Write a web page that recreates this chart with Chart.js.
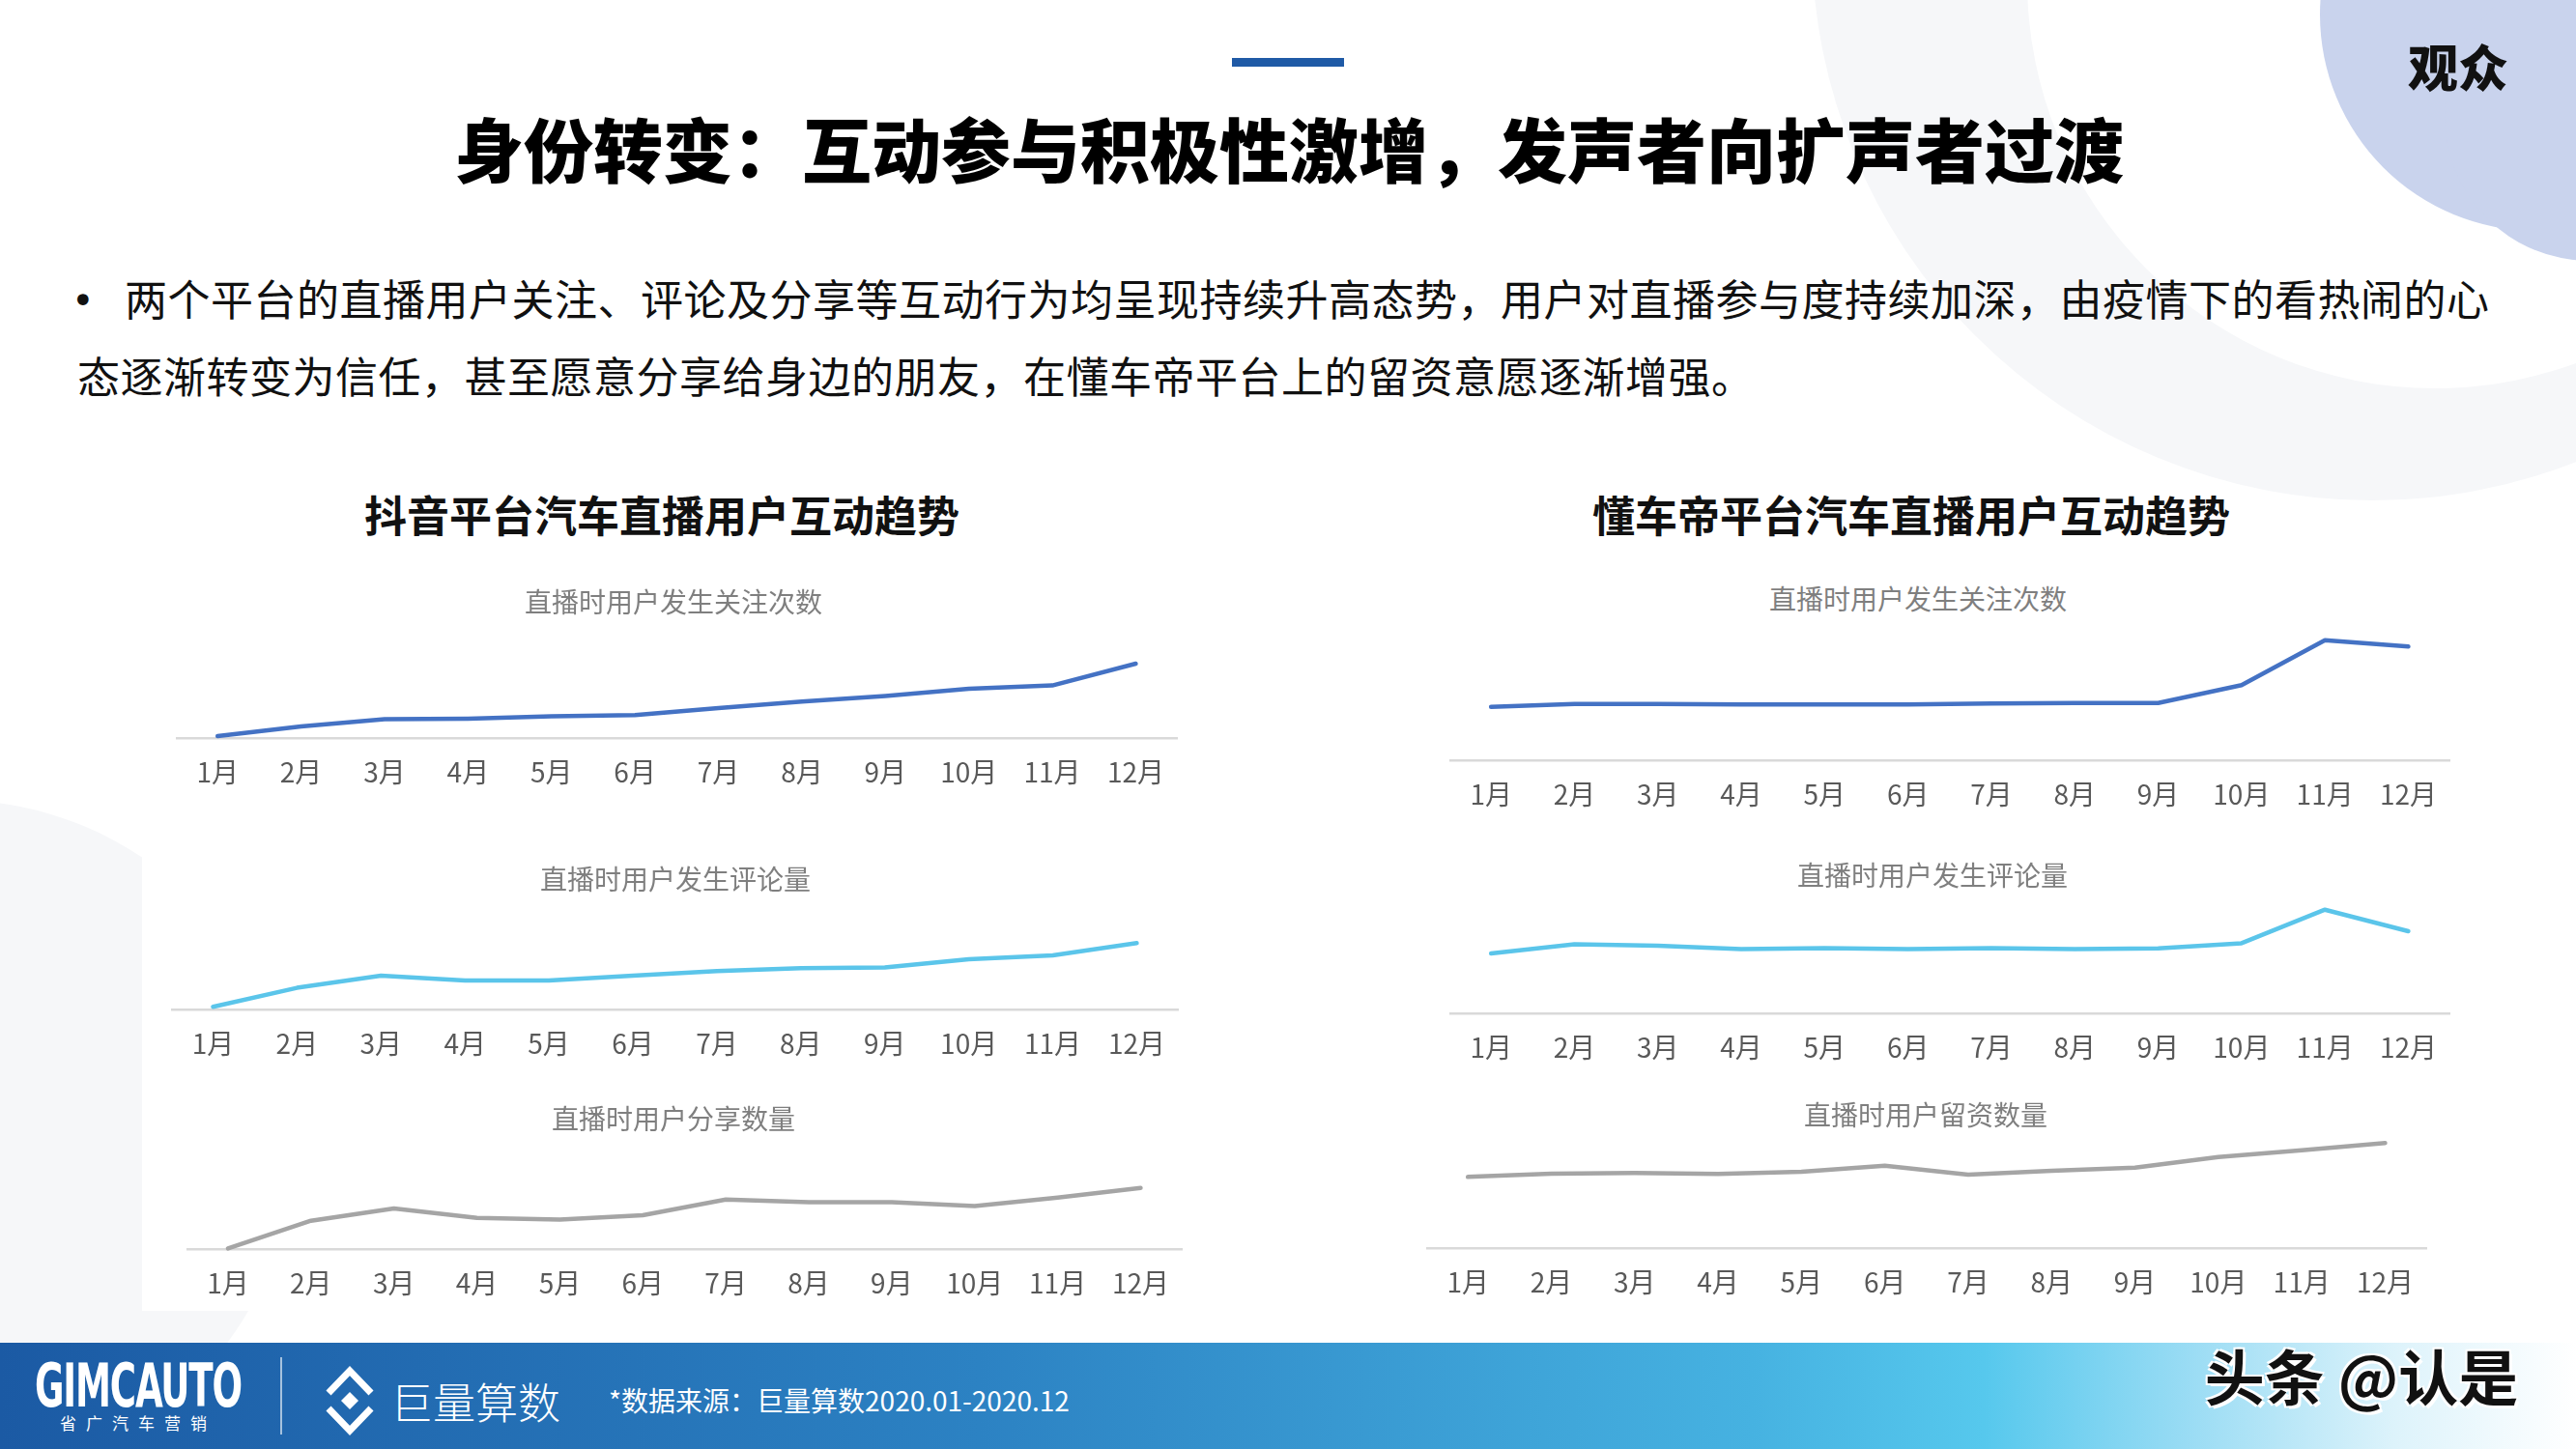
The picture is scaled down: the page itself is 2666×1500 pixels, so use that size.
<!DOCTYPE html>
<html lang="zh-CN">
<head>
<meta charset="utf-8">
<script src="https://cdn.jsdelivr.net/npm/chart.js@4.4.1/dist/chart.umd.min.js"></script>
<style>
  html, body { margin: 0; padding: 0; }
  body {
    width: 2666px; height: 1500px; position: relative; overflow: hidden; background: #fff;
    font-family: "Noto Sans CJK SC", "Noto Sans", sans-serif;
  }
  .abs { position: absolute; }
  .ctr { position: absolute; transform: translate(-50%, -50%); white-space: nowrap; line-height: 1; }
  .sub { font-size: 28px; color: #7f7f7f; z-index: 3; }
  .sect { font-size: 44px; font-weight: 700; color: #111; }
  .body { position: absolute; font-size: 44px; color: #111; letter-spacing: 0.5px; line-height: 1; white-space: nowrap; }
  canvas { position: absolute; z-index: 2; }
</style>
</head>
<body>

<!-- background shapes -->
<div class="abs" style="left:1875px;top:-642px;width:1160px;height:1160px;border-radius:50%;background:#f6f7f9;"></div>
<div class="abs" style="left:2098px;top:-442px;width:844px;height:844px;border-radius:50%;background:#fff;"></div>
<div class="abs" style="left:2401px;top:-209px;width:448px;height:448px;border-radius:50%;background:#c9d3ed;"></div>
<div class="abs" style="left:2530px;top:-30px;width:300px;height:300px;border-radius:50%;background:#c9d3ed;"></div>
<div class="abs" style="left:-402px;top:828px;width:706px;height:706px;border-radius:50%;background:#f6f7f9;"></div>
<div class="abs" style="left:147px;top:780px;width:1110px;height:577px;background:#fff;"></div>

<div class="ctr" style="left:2544px;top:68px;font-size:52px;font-weight:900;color:#111;">观众</div>

<!-- header -->
<div class="abs" style="left:1275px;top:60px;width:116px;height:9px;background:#1f5aa6;"></div>
<div class="ctr" style="left:1334px;top:152px;font-size:72px;font-weight:900;color:#000;">身份转变：互动参与积极性激增，发声者向扩声者过渡</div>

<div class="body" style="left:74px;top:291px;font-family:'DejaVu Sans',sans-serif;font-size:40px;">•</div>
<div class="body" style="left:129px;top:286px;">两个平台的直播用户关注、评论及分享等互动行为均呈现持续升高态势，用户对直播参与度持续加深，由疫情下的看热闹的心</div>
<div class="body" style="left:80px;top:366px;">态逐渐转变为信任，甚至愿意分享给身边的朋友，在懂车帝平台上的留资意愿逐渐增强。</div>

<div class="ctr sect" style="left:685px;top:532px;">抖音平台汽车直播用户互动趋势</div>
<div class="ctr sect" style="left:1978px;top:532px;">懂车帝平台汽车直播用户互动趋势</div>

<!-- chart subtitles -->
<div class="ctr sub" style="left:697px;top:622px;">直播时用户发生关注次数</div>
<div class="ctr sub" style="left:699px;top:909px;">直播时用户发生评论量</div>
<div class="ctr sub" style="left:697px;top:1157px;">直播时用户分享数量</div>
<div class="ctr sub" style="left:1985px;top:619px;">直播时用户发生关注次数</div>
<div class="ctr sub" style="left:2000px;top:905px;">直播时用户发生评论量</div>
<div class="ctr sub" style="left:1993px;top:1153px;">直播时用户留资数量</div>

<canvas id="dyFollow" width="1042" height="200" style="left:182px;top:624px;"></canvas>
<canvas id="dyComment" width="1048" height="200" style="left:177px;top:905px;"></canvas>
<canvas id="dyShare" width="1036" height="200" style="left:193px;top:1153px;"></canvas>
<canvas id="dcdFollow" width="1041" height="200" style="left:1500px;top:647px;"></canvas>
<canvas id="dcdComment" width="1041" height="200" style="left:1500px;top:909px;"></canvas>
<canvas id="dcdLeads" width="1041" height="200" style="left:1476px;top:1152px;"></canvas>

<!-- footer -->
<div class="abs" style="left:0;top:1390px;width:2666px;height:110px;background:linear-gradient(90deg,#1b5aa4 0%,#2c82c3 38%,#46b2e1 68%,#56c8ed 77%,#9adcf4 85%,#ddf3fb 93%,#ffffff 100%);"></div>
<div class="abs" style="left:36px;top:1404px;font-family:'DejaVu Sans',sans-serif;font-weight:700;font-size:62px;line-height:1;color:#fff;transform:scaleX(0.6);transform-origin:left top;letter-spacing:-2px;">GIMCAUTO</div>
<div class="abs" style="left:62px;top:1464px;font-size:17px;line-height:1;color:#fff;letter-spacing:10px;">省广汽车营销</div>
<div class="abs" style="left:290px;top:1405px;width:2px;height:80px;background:rgba(255,255,255,0.6);"></div>
<svg class="abs" style="left:335px;top:1412px;" width="54" height="76" viewBox="0 0 54 76">
  <polyline points="5,30 27,7 49,30" fill="none" stroke="#fff" stroke-width="7" stroke-linejoin="miter"/>
  <polygon points="27,29 36,38 27,47 18,38" fill="#fff"/>
  <polyline points="5,46 27,69 49,46" fill="none" stroke="#fff" stroke-width="7" stroke-linejoin="miter"/>
</svg>
<div class="abs" style="left:404px;top:1428px;font-size:44px;line-height:1;color:#fff;font-weight:300;">巨量算数</div>
<div class="abs" style="left:630px;top:1435px;font-size:28px;line-height:1;color:#fff;">*数据来源：巨量算数2020.01-2020.12</div>
<div class="ctr" style="left:2444px;top:1423px;font-size:62px;font-weight:700;color:#111;text-shadow:3px 3px 0 #fff,-2px -2px 0 #fff,2px -2px 0 #fff,-2px 2px 0 #fff;">头条 @认是</div>

<script>
// months on the x axis
const months = ["1月", "2月", "3月", "4月", "5月", "6月", "7月", "8月", "9月", "10月", "11月", "12月"];

// 抖音 (relative index)
const dyFollowData = [2, 12, 19.4, 20, 22.4, 23.7, 31, 37.7, 43.4, 51, 54.4, 77];
const dyCommentData = [2.7, 22.4, 35, 30, 30, 35, 39.7, 42.7, 43.4, 52, 56, 68.7];
const dyShareData = [0.6, 29.3, 42, 32.3, 30.6, 35, 51.3, 48.6, 48.6, 44.6, 53.3, 63.3];

// 懂车帝
const dcdFollowData = [55.3, 58.3, 58.3, 57.7, 57.7, 57.7, 58.7, 59.3, 59.3, 77.7, 124.3, 117.7];
const dcdCommentData = [62, 71.6, 70, 66.6, 67.6, 66.6, 67.6, 66.6, 67.3, 72.6, 107.3, 85];
const dcdLeadsData = [73.7, 77, 77.7, 76.7, 79, 85.3, 76, 80, 83.3, 94.3, 101.3, 108.7];

const yMax = 140;

function drawTrend(id, values, color) {
  return new Chart(document.getElementById(id), {
    type: "line",
    data: {
      labels: months,
      datasets: [{
        data: values,
        borderColor: color,
        borderWidth: 4.5,
        pointRadius: 0,
        tension: 0,
        borderJoinStyle: "round",
        borderCapStyle: "round",
        clip: false,
      }],
    },
    options: {
      responsive: false,
      animation: false,
      layout: { padding: 0 },
      plugins: { legend: { display: false }, tooltip: { enabled: false } },
      scales: {
        x: {
          offset: true,
          grid: { display: false, drawTicks: false },
          border: { display: true, color: "#d9d9d9", width: 2.5 },
          ticks: {
            color: "#595959",
            padding: 19,
            autoSkip: false,
            maxRotation: 0,
            font: { family: "'Noto Sans CJK SC', sans-serif", size: 28 },
          },
          afterFit: (scale) => { scale.height = 60; },
        },
        y: { display: false, min: 0, max: yMax },
      },
    },
  });
}

drawTrend("dyFollow", dyFollowData, "#4472c4");
drawTrend("dyComment", dyCommentData, "#5bc5ea");
drawTrend("dyShare", dyShareData, "#a5a5a5");
drawTrend("dcdFollow", dcdFollowData, "#4472c4");
drawTrend("dcdComment", dcdCommentData, "#5bc5ea");
drawTrend("dcdLeads", dcdLeadsData, "#a5a5a5");
</script>
</body>
</html>
